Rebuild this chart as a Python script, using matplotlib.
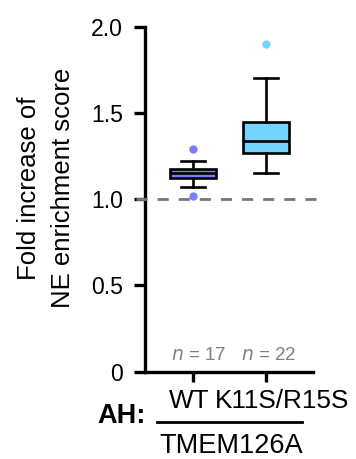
import matplotlib
matplotlib.use("Agg")
import matplotlib.pyplot as plt

plt.rcParams['font.family'] = ['Liberation Sans', 'DejaVu Sans']

# Data
groups = ['WT', 'K11S/R15S']
n_cells = [17, 22]
medians = [1.149, 1.340]
q1 = [1.122, 1.265]
q3 = [1.176, 1.450]
whisk_lo = [1.070, 1.149]
whisk_hi = [1.220, 1.705]
fliers = [[1.293, 1.019], [1.899]]
colors = ['#7b7bff', '#74d4ff']
y_ticks = [0, 0.5, 1.0, 1.5, 2.0]
y_ticklabels = ['0', '0.5', '1.0', '1.5', '2.0']

W, H = 356, 459
fig = plt.figure(figsize=(W / 100, H / 100), dpi=100)
ax = fig.add_axes([145 / W, 87.3 / H, 168 / W, 345 / H])

stats = []
for i in range(len(groups)):
    stats.append(dict(med=medians[i], q1=q1[i], q3=q3[i],
                      whislo=whisk_lo[i], whishi=whisk_hi[i],
                      fliers=fliers[i], label=groups[i]))

pos = [1, 2]
bp = ax.bxp(stats, positions=pos, widths=0.64, patch_artist=True,
            showfliers=True,
            boxprops=dict(linewidth=1.9, edgecolor='black'),
            medianprops=dict(color='black', linewidth=1.9),
            whiskerprops=dict(color='black', linewidth=1.9),
            capprops=dict(color='black', linewidth=1.9),
            capwidths=0.34)
for i, patch in enumerate(bp['boxes']):
    patch.set_facecolor(colors[i])
for i, fl in enumerate(bp['fliers']):
    fl.set(marker='o', markerfacecolor=colors[i], markeredgecolor='none',
           markersize=6)

# reference line at 1.0
ax.plot([0.215, 2.71], [1.0, 1.0], color='#777777', lw=2,
        dashes=(4, 3.6), clip_on=False, zorder=5)

ax.set_xlim(0.342, 2.644)
ax.set_ylim(0, 2.0)
ax.set_yticks(y_ticks)
ax.set_yticklabels(y_ticklabels)
ax.set_xticks(pos)
ax.set_xticklabels(['', ''])

for s in ['top', 'right']:
    ax.spines[s].set_visible(False)
for s in ['left', 'bottom']:
    ax.spines[s].set_linewidth(2.4)
ax.tick_params(axis='y', length=8, width=2.4, labelsize=16.6, pad=8)
ax.tick_params(axis='x', length=7, width=2.4)

# n labels
for x, n in zip([1.07, 2.03], n_cells):
    ax.text(x, 0.068, f'$\\it{{n}}$ = {n}', ha='center', va='baseline',
            fontsize=13.5, color='#808080')

def fx(px):
    return px / W

def fy(py):
    return 1 - py / H

fig.text(fx(189), fy(408), groups[0], ha='center', va='baseline', fontsize=18.8)
fig.text(fx(282), fy(408), groups[1], ha='center', va='baseline', fontsize=18.8)
fig.text(fx(121.5), fy(423), 'AH:', ha='center', va='baseline', fontsize=19.5,
         fontweight='bold')
fig.add_artist(plt.Line2D([fx(157), fx(302)], [fy(422), fy(422)],
                          color='black', lw=2))
fig.text(fx(231), fy(453), 'TMEM126A', ha='center', va='baseline', fontsize=19.5)

fig.text(fx(46), fy(188), 'Fold increase of\nNE enrichment score',
         rotation=90, ha='center', va='center', fontsize=18.5,
         linespacing=1.5)

fig.savefig('out.png', dpi=100)
